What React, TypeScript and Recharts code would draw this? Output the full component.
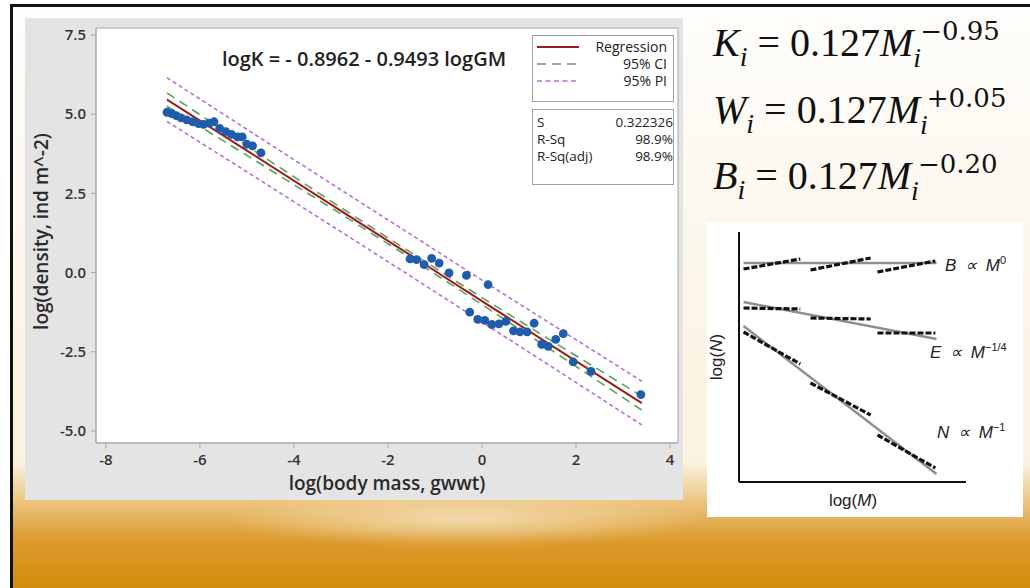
import React from "react";
import { CartesianGrid, ComposedChart, Line, LineChart, ReferenceArea, Scatter, XAxis, YAxis } from "recharts";

// observed data, log body mass vs log density
const massX = [
  -6.7, -6.6, -6.5, -6.4, -6.28, -6.15, -6.03, -5.92, -5.8, -5.7, -5.58, -5.45, -5.33, -5.2, -5.1, -5.0, -4.88, -4.7,
  -1.53, -1.39, -1.23, -1.07, -0.91, -0.7, -0.33, 0.13,
  -0.26, -0.09, 0.06, 0.21, 0.36, 0.51, 0.67, 0.81, 0.96, 1.11, 1.27, 1.41, 1.57, 1.73, 1.94, 2.32, 3.38,
];
const densityY = [
  5.06, 5.02, 4.95, 4.88, 4.82, 4.76, 4.7, 4.68, 4.72, 4.76, 4.55, 4.45, 4.36, 4.28, 4.28, 4.05, 4.0, 3.78,
  0.43, 0.41, 0.25, 0.45, 0.3, -0.01, -0.09, -0.38,
  -1.25, -1.48, -1.51, -1.64, -1.62, -1.54, -1.84, -1.87, -1.87, -1.6, -2.27, -2.33, -2.11, -1.93, -2.82, -3.12, -3.85,
];

// fitted line and bands
const fitX = [-6.7, -5, -3, -1.5, 0, 1.5, 3.4];
const fitY = [5.46, 3.85, 1.95, 0.53, -0.9, -2.32, -4.12];
const ciUpper = [5.67, 4.0, 2.05, 0.62, -0.79, -2.17, -3.9];
const ciLower = [5.25, 3.7, 1.85, 0.44, -1.01, -2.47, -4.34];
const piUpper = [6.15, 4.52, 2.61, 1.19, -0.24, -1.65, -3.43];
const piLower = [4.77, 3.18, 1.29, -0.13, -1.56, -2.99, -4.81];

const xTicks = [-8, -6, -4, -2, 0, 2, 4];
const yTicks = [-5, -2.5, 0, 2.5, 5, 7.5];

// inset: scaling sketch (arbitrary log units)
const sketchX = [0.2, 8.7];
const biomassFit = [8.76, 8.76];
const energyFit = [7.2, 5.72];
const abundanceFit = [6.24, 0.32];
const segmentX = [
  [0.2, 2.7],
  [3.15, 5.8],
  [6.1, 8.65],
];
const biomassSegs = [
  [8.52, 8.92],
  [8.48, 8.96],
  [8.4, 8.84],
];
const energySegs = [
  [6.96, 6.92],
  [6.56, 6.52],
  [5.96, 5.96],
];
const abundanceSegs = [
  [6.0, 4.72],
  [3.96, 2.68],
  [1.88, 0.56],
];

const points = massX.map((x, i) => ({ x, y: densityY[i] }));
const rows = (ys: number[]) => fitX.map((x, i) => ({ x, y: ys[i] }));
const pair = (xs: number[], ys: number[]) => xs.map((x, i) => ({ x, y: ys[i] }));

const XDOM: [number, number] = [-8.21, 4.17];
const YDOM: [number, number] = [-5.38, 7.72];
const SANS = "'Open Sans', 'Noto Sans', sans-serif";

const BlueDot = (props: any) => <circle cx={props.cx} cy={props.cy} r={4.4} fill="#1f5cab" />;

const YTitle = ({ viewBox }: any) => {
  const x = viewBox.x + 5;
  const y = viewBox.y + viewBox.height / 2 - 4;
  return (
    <text x={x} y={y} transform={`rotate(-90 ${x} ${y})`} textAnchor="middle" dy="0.35em" fontFamily={SANS} fontSize={19} fontWeight={600} fill="#2a2a2a">
      log(density, ind m^-2)
    </text>
  );
};

function MainPlot() {
  return (
    <div style={{ position: "absolute", left: 25, top: 18, width: 658, height: 482, background: "#e4e4e4" }}>
      <ComposedChart width={658} height={482} margin={{ top: 10, right: 5, bottom: 27, left: 11 }}>
        <CartesianGrid fill="#fff" horizontal={false} vertical={false} />
        <XAxis
          type="number"
          dataKey="x"
          domain={XDOM}
          ticks={xTicks}
          allowDataOverflow
          height={30}
          tickSize={5}
          tickMargin={6}
          stroke="#a8a8a8"
          tick={{ fill: "#333", fontSize: 15, fontWeight: 600, fontFamily: SANS }}
          label={{ value: "log(body mass, gwwt)", position: "bottom", offset: 4, style: { fontFamily: SANS, fontSize: 19, fontWeight: 600, fill: "#2a2a2a" } }}
        />
        <YAxis
          type="number"
          dataKey="y"
          domain={YDOM}
          ticks={yTicks}
          allowDataOverflow
          width={60}
          tickSize={5}
          tickMargin={5}
          stroke="#a8a8a8"
          tickFormatter={(v: number) => v.toFixed(1)}
          tick={{ fill: "#333", fontSize: 15, fontWeight: 600, fontFamily: SANS }}
          label={<YTitle />}
        />
        <ReferenceArea x1={XDOM[0]} x2={XDOM[1]} y1={YDOM[0]} y2={YDOM[1]} fill="none" stroke="#a8a8a8" />
        <Line data={rows(piUpper)} dataKey="y" stroke="#b66fd8" strokeWidth={1.6} strokeDasharray="4 3" dot={false} activeDot={false} isAnimationActive={false} />
        <Line data={rows(piLower)} dataKey="y" stroke="#b66fd8" strokeWidth={1.6} strokeDasharray="4 3" dot={false} activeDot={false} isAnimationActive={false} />
        <Line data={rows(ciUpper)} dataKey="y" stroke="#5f9f5f" strokeWidth={1.6} strokeDasharray="9 6" dot={false} activeDot={false} isAnimationActive={false} />
        <Line data={rows(ciLower)} dataKey="y" stroke="#5f9f5f" strokeWidth={1.6} strokeDasharray="9 6" dot={false} activeDot={false} isAnimationActive={false} />
        <Line data={rows(fitY)} dataKey="y" stroke="#9e1b1b" strokeWidth={2} dot={false} activeDot={false} isAnimationActive={false} />
        <Scatter data={points} dataKey="y" fill="#1f5cab" shape={BlueDot} isAnimationActive={false} />
      </ComposedChart>
    </div>
  );
}

function Sketch() {
  const segLines = (segs: number[][], key: string) =>
    segs.map((ys, i) => (
      <Line
        key={key + i}
        data={pair(segmentX[i], ys)}
        dataKey="y"
        stroke="#111"
        strokeWidth={3.2}
        strokeDasharray="6 2"
        dot={false}
        activeDot={false}
        isAnimationActive={false}
      />
    ));
  return (
    <div style={{ position: "absolute", left: 707, top: 222, width: 316, height: 295, background: "#fff" }}>
      <LineChart width={316} height={295} margin={{ top: 10, right: 57, bottom: 5, left: 2 }}>
        <XAxis type="number" dataKey="x" domain={[0, 10]} height={30} tick={false} tickLine={false} axisLine={{ stroke: "#111", strokeWidth: 2 }} />
        <YAxis type="number" dataKey="y" domain={[0, 10]} width={30} tick={false} tickLine={false} axisLine={{ stroke: "#111", strokeWidth: 2 }} />
        {[biomassFit, energyFit, abundanceFit].map((ys, i) => (
          <Line key={"fit" + i} data={pair(sketchX, ys)} dataKey="y" stroke="#8e8e8e" strokeWidth={2.4} dot={false} activeDot={false} isAnimationActive={false} />
        ))}
        {segLines(biomassSegs, "b")}
        {segLines(energySegs, "e")}
        {segLines(abundanceSegs, "n")}
      </LineChart>
    </div>
  );
}

function Overlay() {
  const serif = "'Liberation Serif', serif";
  const supFont = "'DejaVu Serif', serif";
  const formula = (y: number, lhs: string, exp: string) => (
    <text x={713} y={y} fontFamily={serif} fontSize={40} fill="#111">
      <tspan fontStyle="italic">{lhs}</tspan>
      <tspan fontStyle="italic" fontSize={28} dy={10}>i</tspan>
      <tspan dy={-10}>{" = 0.127"}</tspan>
      <tspan fontStyle="italic">M</tspan>
      <tspan fontStyle="italic" fontSize={28} dy={11}>i</tspan>
      <tspan fontFamily={supFont} fontSize={26} dx={-1} dy={-27}>{exp}</tspan>
    </text>
  );
  const lab = "'Liberation Sans', Arial, sans-serif";
  return (
    <svg width={1030} height={588} style={{ position: "absolute", left: 0, top: 0, pointerEvents: "none" }}>
      <text x={364} y={66} textAnchor="middle" fontFamily={SANS} fontSize={20} fontWeight={600} fill="#222">
        logK = - 0.8962 - 0.9493 logGM
      </text>

      <rect x={532.5} y={35.5} width={141} height={66} fill="#fff" stroke="#a0a0a0" />
      <line x1={537} x2={579} y1={47} y2={47} stroke="#9e1b1b" strokeWidth={2} />
      <line x1={537} x2={579} y1={64} y2={64} stroke="#5f9f5f" strokeWidth={1.6} strokeDasharray="9 6" />
      <line x1={537} x2={579} y1={81} y2={81} stroke="#b66fd8" strokeWidth={1.6} strokeDasharray="5 3.5" />
      <g fontFamily={SANS} fontSize={14} fill="#222" textAnchor="end">
        <text x={667} y={52}>Regression</text>
        <text x={667} y={69}>95% CI</text>
        <text x={667} y={86}>95% PI</text>
      </g>

      <rect x={532.5} y={109.5} width={141} height={75} fill="#fff" stroke="#a0a0a0" />
      <g fontFamily={SANS} fontSize={13.5} fill="#222">
        <text x={537} y={127}>S</text>
        <text x={537} y={144}>R-Sq</text>
        <text x={537} y={161}>R-Sq(adj)</text>
        <text x={673} y={127} textAnchor="end">0.322326</text>
        <text x={673} y={144} textAnchor="end">98.9%</text>
        <text x={673} y={161} textAnchor="end">98.9%</text>
      </g>

      {formula(56, "K", "\u22120.95")}
      {formula(123, "W", "+0.05")}
      {formula(189, "B", "\u22120.20")}

      <g fontFamily={lab} fontSize={17} fill="#222">
        <text x={853} y={506} textAnchor="middle">
          log(<tspan fontStyle="italic">M</tspan>)
        </text>
        <text x={722} y={357} textAnchor="middle" transform="rotate(-90 722 357)">
          log(<tspan fontStyle="italic">N</tspan>)
        </text>
        <text x={945} y={271} fontStyle="italic" wordSpacing={4}>
          B ∝ M<tspan fontSize={11} dy={-7} fontStyle="normal">0</tspan>
        </text>
        <text x={930} y={358} fontStyle="italic" wordSpacing={4}>
          E ∝ M<tspan fontSize={11} dy={-7} fontStyle="normal">−1/4</tspan>
        </text>
        <text x={937} y={438} fontStyle="italic" wordSpacing={4}>
          N ∝ M<tspan fontSize={11} dy={-7} fontStyle="normal">−1</tspan>
        </text>
      </g>
    </svg>
  );
}

export default function App() {
  return (
    <div style={{ position: "absolute", left: 0, top: 0, width: 1030, height: 588, overflow: "hidden", background: "#fff" }}>
      <div
        style={{
          position: "absolute",
          left: 10,
          top: 4,
          width: 1020,
          height: 584,
          borderLeft: "3px solid #111",
          borderTop: "3px solid #111",
          background:
            "radial-gradient(ellipse 240px 28px at 450px 512px, rgba(245,225,188,0.85), rgba(245,225,188,0) 100%), linear-gradient(180deg, #fefdfb 0%, #fbf2df 78%, #ebc27a 85%, #dc9c30 91%, #d28b0a 100%)",
        }}
      />
      <MainPlot />
      <Sketch />
      <Overlay />
    </div>
  );
}
